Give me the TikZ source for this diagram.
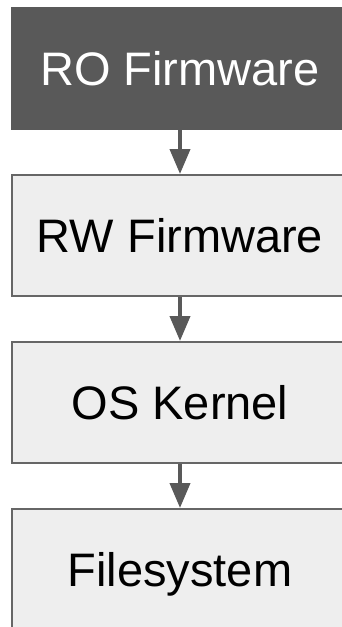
\documentclass[tikz,border=0pt]{standalone}
\usepackage{fontspec}
\setmainfont{Liberation Sans}
\usetikzlibrary{arrows.meta}
\definecolor{darkbox}{HTML}{595959}
\definecolor{lightbox}{HTML}{EEEEEE}
\definecolor{boxline}{HTML}{666666}
\begin{document}
\begin{tikzpicture}[x=1pt,y=-1pt,
  stage/.style={rectangle, minimum width=337pt, minimum height=121pt,
    line width=2pt, draw=boxline, fill=lightbox, text=black,
    font=\fontsize{47}{56}\selectfont, text height=33.6pt, text depth=0pt,
    inner sep=0pt, anchor=north},
  rostage/.style={stage, draw=darkbox, fill=darkbox, text=white},
  flow/.style={line width=4pt, draw=darkbox,
    -{Triangle[width=20pt,length=25pt]}}]
  \useasboundingbox (0,0) rectangle (342,627);
  \clip (0,0) rectangle (342,627);
  \node[rostage] (ro) at (180,7) {RO Firmware};
  \node[stage] (rw) at (180,174) {RW Firmware};
  \node[stage] (os) at (180,341) {OS Kernel};
  \node[stage] (fs) at (180,508) {Filesystem};
  \draw[flow] (ro.south) -- (rw.north);
  \draw[flow] (rw.south) -- (os.north);
  \draw[flow] (os.south) -- (fs.north);
\end{tikzpicture}
\end{document}
